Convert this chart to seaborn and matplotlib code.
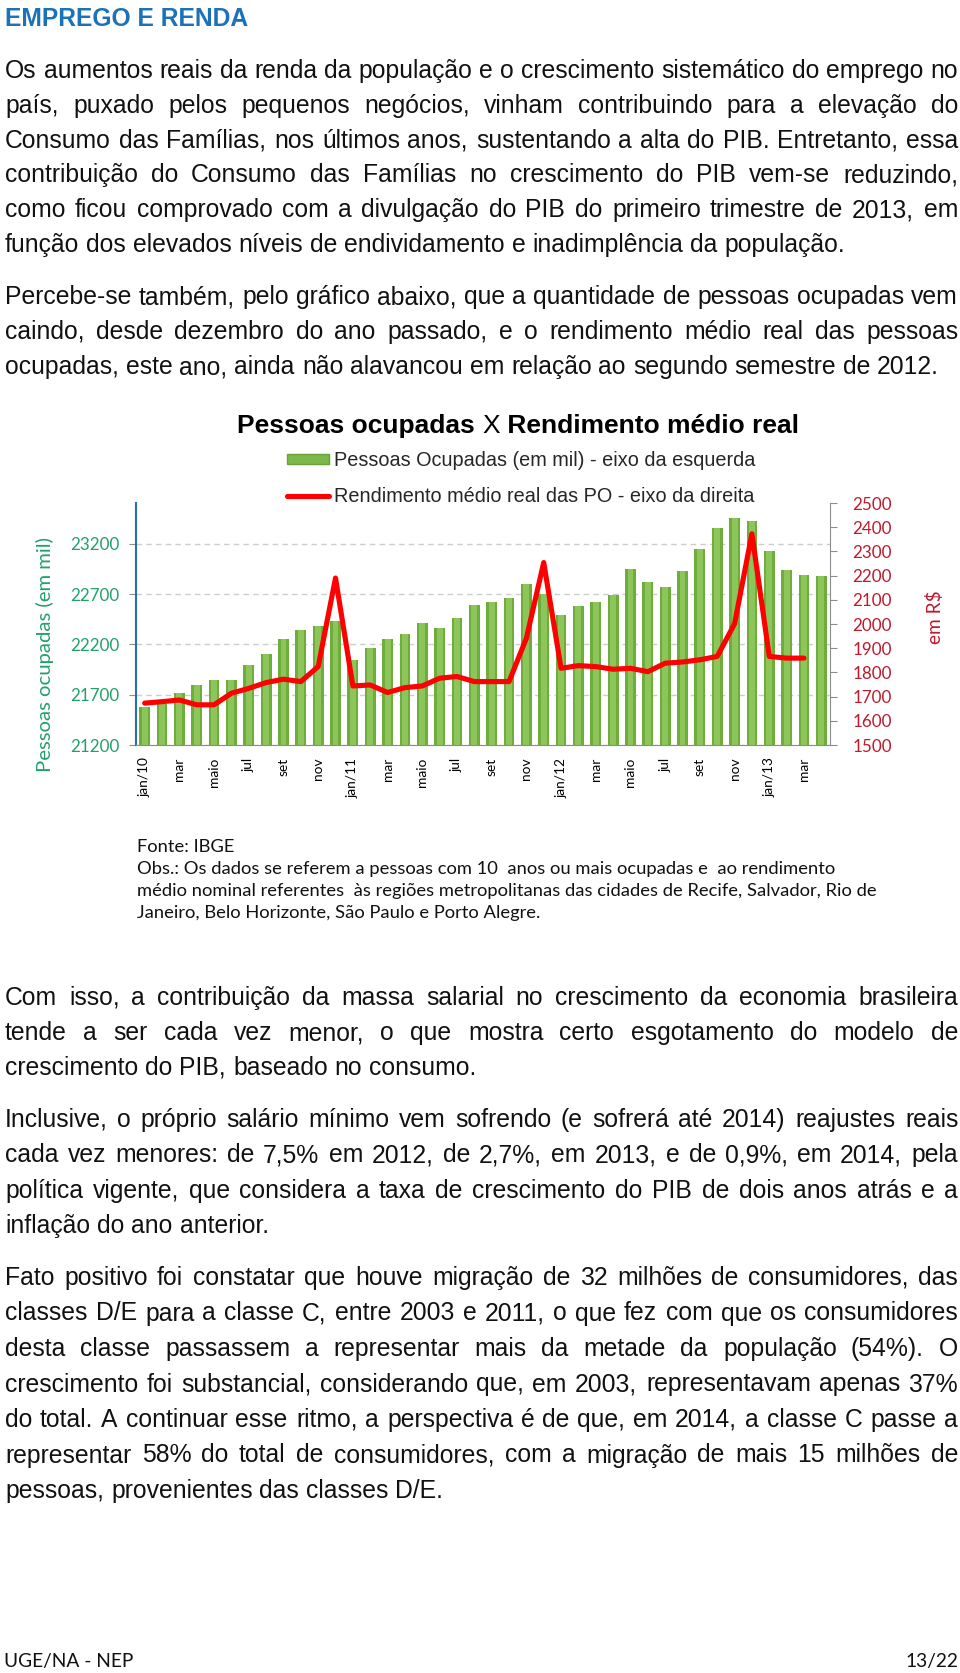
import numpy as np
import matplotlib
matplotlib.use('Agg')
import matplotlib.pyplot as plt
import seaborn as sns
from matplotlib.patches import Patch
from matplotlib.lines import Line2D

W, H = 960, 1673

# dados do grafico (jan/10 a abr/13)
meses = ['jan/10', 'fev/10', 'mar/10', 'abr/10', 'mai/10', 'jun/10', 'jul/10', 'ago/10', 'set/10', 'out/10', 'nov/10', 'dez/10',
         'jan/11', 'fev/11', 'mar/11', 'abr/11', 'mai/11', 'jun/11', 'jul/11', 'ago/11', 'set/11', 'out/11', 'nov/11', 'dez/11',
         'jan/12', 'fev/12', 'mar/12', 'abr/12', 'mai/12', 'jun/12', 'jul/12', 'ago/12', 'set/12', 'out/12', 'nov/12', 'dez/12',
         'jan/13', 'fev/13', 'mar/13', 'abr/13']
ocupadas = [21578, 21610, 21720, 21800, 21850, 21850, 21992, 22105, 22258, 22338, 22384, 22434,
            22046, 22162, 22258, 22304, 22417, 22367, 22460, 22593, 22626, 22656, 22802, 22702,
            22494, 22586, 22626, 22693, 22948, 22815, 22769, 22925, 23147, 23356, 23455, 23422,
            23124, 22941, 22892, 22882]
rendimento = [1673, 1679, 1686, 1666, 1666, 1714, 1734, 1758, 1772, 1762, 1824, 2190,
              1744, 1748, 1717, 1737, 1744, 1776, 1783, 1762, 1762, 1762, 1941, 2254,
              1817, 1828, 1824, 1813, 1817, 1803, 1838, 1843, 1852, 1866, 2001, 2373,
              1866, 1859, 1859, np.nan]
rotulos_x = ['jan/10', 'mar', 'maio', 'jul', 'set', 'nov', 'jan/11', 'mar', 'maio', 'jul', 'set', 'nov',
             'jan/12', 'mar', 'maio', 'jul', 'set', 'nov', 'jan/13', 'mar']
ticks_esq = [21200, 21700, 22200, 22700, 23200]
ticks_dir = list(range(1500, 2501, 100))

# texto da pagina
par1 = ["Os aumentos reais da renda da população e o crescimento sistemático do emprego no",
        "país, puxado pelos pequenos negócios, vinham contribuindo para a elevação do",
        "Consumo das Famílias, nos últimos anos, sustentando a alta do PIB. Entretanto, essa",
        "contribuição do Consumo das Famílias no crescimento do PIB vem-se reduzindo,",
        "como ficou comprovado com a divulgação do PIB do primeiro trimestre de 2013, em",
        "função dos elevados níveis de endividamento e inadimplência da população."]
par2 = ["Percebe-se também, pelo gráfico abaixo, que a quantidade de pessoas ocupadas vem",
        "caindo, desde dezembro do ano passado, e o rendimento médio real das pessoas",
        "ocupadas, este ano, ainda não alavancou em relação ao segundo semestre de 2012."]
par3 = ["Com isso, a contribuição da massa salarial no crescimento da economia brasileira",
        "tende a ser cada vez menor, o que mostra certo esgotamento do modelo de",
        "crescimento do PIB, baseado no consumo."]
par4 = ["Inclusive, o próprio salário mínimo vem sofrendo (e sofrerá até 2014) reajustes reais",
        "cada vez menores: de 7,5% em 2012, de 2,7%, em 2013, e de 0,9%, em 2014, pela",
        "política vigente, que considera a taxa de crescimento do PIB de dois anos atrás e a",
        "inflação do ano anterior."]
par5 = ["Fato positivo foi constatar que houve migração de 32 milhões de consumidores, das",
        "classes D/E para a classe C, entre 2003 e 2011, o que fez com que os consumidores",
        "desta classe passassem a representar mais da metade da população (54%). O",
        "crescimento foi substancial, considerando que, em 2003, representavam apenas 37%",
        "do total. A continuar esse ritmo, a perspectiva é de que, em 2014, a classe C passe a",
        "representar 58% do total de consumidores, com a migração de mais 15 milhões de",
        "pessoas, provenientes das classes D/E."]
notas = ["Fonte: IBGE",
         "Obs.: Os dados se referem a pessoas com 10  anos ou mais ocupadas e  ao rendimento",
         "médio nominal referentes  às regiões metropolitanas das cidades de Recife, Salvador, Rio de",
         "Janeiro, Belo Horizonte, São Paulo e Porto Alegre."]
legenda = ['Pessoas Ocupadas (em mil) - eixo da esquerda',
           'Rendimento médio real das PO - eixo da direita']

sns.set_style('white')
plt.rcParams['font.family'] = ['Liberation Sans', 'DejaVu Sans']

fig = plt.figure(figsize=(W / 100, H / 100), dpi=100)
r = fig.canvas.get_renderer()


def fy(y):
    return 1 - y / H


def largura(texto, **kw):
    t = fig.text(0, 0, texto, **kw)
    w = t.get_window_extent(r).width
    t.remove()
    return w


def tamanho(texto, alvo, **kw):
    # tamanho de fonte que da ao texto a largura medida na figura original
    return 20 * alvo / largura(texto, fontsize=20, **kw)


def linha(texto, y, x0=5, x1=958, justificar=True, **kw):
    palavras = texto.split()
    objs = [fig.text(0, fy(y), p, va='baseline', **kw) for p in palavras]
    larg = [o.get_window_extent(r).width for o in objs]
    if justificar and len(objs) > 1:
        gap = (x1 - x0 - sum(larg)) / (len(objs) - 1)
    else:
        gap = largura('a a', **kw) - largura('aa', **kw)
    x = x0
    for o, w in zip(objs, larg):
        o.set_x(round(x) / W)
        x += w + gap


def paragrafo(linhas, y0, passo, **kw):
    for i, l in enumerate(linhas):
        linha(l, y0 + i * passo, justificar=(i < len(linhas) - 1), **kw)


corpo = dict(family='Liberation Sans', color='#111111')
corpo['fontsize'] = tamanho(par2[-1], 933, **corpo)

fig.text(5 / W, fy(26.5), 'EMPREGO E RENDA', fontweight='bold', color='#1C72B8', va='baseline',
         fontsize=tamanho('EMPREGO E RENDA', 243, fontweight='bold'))
paragrafo(par1, 78, 34.8, **corpo)
paragrafo(par2, 304, 35, **corpo)
paragrafo(par3, 1005, 35, **corpo)
paragrafo(par4, 1127, 35.3, **corpo)
paragrafo(par5, 1285, 35.5, **corpo)

# titulo do grafico (X sem negrito)
partes = [('Pessoas ocupadas ', 'bold'), ('X', 'normal'), (' Rendimento médio real', 'bold')]
tam_t = tamanho('Pessoas ocupadas X Rendimento médio real', 560, fontweight='bold')
kw_t = dict(fontsize=tam_t, family='Liberation Sans', color='black')
larg_t = [largura(p, fontweight=w, **kw_t) for p, w in partes]
x = 518 - sum(larg_t) / 2
for (p, w), lw in zip(partes, larg_t):
    fig.text(x / W, fy(433), p, fontweight=w, va='baseline', **kw_t)
    x += lw

# grafico
verde = '#6FAC3C'
verde_claro = '#8CC65A'
vermelho = '#FF0000'
verde_txt = '#22A06B'
verm_txt = '#C01A2C'
cinza = '#8C8C8C'
tam_num = tamanho('23200', 49, family='Lato')
tam_x = tamanho('jan/10', 40, family='Lato')

ax = fig.add_axes([136 / W, fy(745), 694 / W, 242 / H])
sns.barplot(x=meses, y=ocupadas, ax=ax, color=verde, saturation=1, width=0.62, linewidth=0)
sns.barplot(x=meses, y=ocupadas, ax=ax, color=verde_claro, saturation=1, width=0.34, linewidth=0)
ax.set_ylim(21200, 23605)
ax.set_xlim(-0.5, len(meses) - 0.5)
ax.set_yticks(ticks_esq)
ax.set_yticklabels([str(v) for v in ticks_esq], family='Lato', fontsize=tam_num, color=verde_txt)
ax.set_xticks(range(0, len(meses), 2))
ax.set_xticklabels(rotulos_x, rotation=90, family='Lato', fontsize=tam_x, color='black')
ax.set_xticks(np.arange(-0.5, len(meses), 1), minor=True)
ax.tick_params(axis='x', which='major', length=0, pad=9)
ax.tick_params(axis='x', which='minor', length=5, color=cinza, width=1)
ax.tick_params(axis='y', length=5, color=cinza, pad=7)
ax.yaxis.grid(True, color='#CDCDCD', linestyle=(0, (4, 3)), linewidth=1)
ax.set_axisbelow(True)
ax.set_xlabel('')
ax.set_ylabel('')
ax.spines['top'].set_visible(False)
ax.spines['right'].set_visible(False)
ax.spines['left'].set_color('#2A6DB5')
ax.spines['left'].set_linewidth(1.5)
ax.spines['bottom'].set_color(cinza)

ax2 = ax.twinx()
sns.lineplot(x=np.arange(len(meses)), y=rendimento, ax=ax2, color=vermelho, linewidth=3.7,
             estimator=None)
ax2.set_ylim(1500, 2500)
ax2.set_yticks(ticks_dir)
ax2.set_yticklabels([str(v) for v in ticks_dir], family='Lato', fontsize=tam_num, color=verm_txt)
ax2.tick_params(axis='y', length=5, color=cinza, pad=11)
for s in ['top', 'left', 'bottom']:
    ax2.spines[s].set_visible(False)
ax2.spines['right'].set_color(cinza)
ax2.set_ylabel('')

fig.text(45 / W, fy(654), 'Pessoas ocupadas (em mil)', rotation=90, ha='center', va='center',
         family='Lato', color=verde_txt,
         fontsize=tamanho('Pessoas ocupadas (em mil)', 235, family='Lato'))
fig.text(935 / W, fy(617), 'em R$', rotation=90, ha='center', va='center',
         family='Lato', color=verm_txt, fontsize=tamanho('em R$', 54, family='Lato'))

tam_leg = tamanho(legenda[0], 419, family='Liberation Sans')
handles = [Patch(facecolor='#7DB84A', edgecolor='#6AA33A'),
           Line2D([0], [0], color=vermelho, linewidth=3.7)]
fig.legend(handles, legenda, loc='upper left', bbox_to_anchor=(287 / W, fy(451)), frameon=False,
           prop={'family': 'Liberation Sans', 'size': tam_leg}, handlelength=2.1,
           handleheight=0.45, handletextpad=0.25, labelspacing=0.85, borderpad=0, borderaxespad=0)

# notas
tam_n = tamanho(notas[1], 695, family='Lato')
for i, n in enumerate(notas):
    fig.text(137 / W, fy(852 + 22 * i), n, family='Lato', fontsize=tam_n, color='#111111', va='baseline')

tam_r = tamanho('UGE/NA - NEP', 129, family='Lato')
fig.text(4 / W, fy(1667), 'UGE/NA - NEP', family='Lato', fontsize=tam_r, color='#111111', va='baseline')
fig.text(958 / W, fy(1667), '13/22', family='Lato', fontsize=tam_r, color='#111111', va='baseline', ha='right')

fig.savefig('out.png', dpi=100, facecolor='white')
